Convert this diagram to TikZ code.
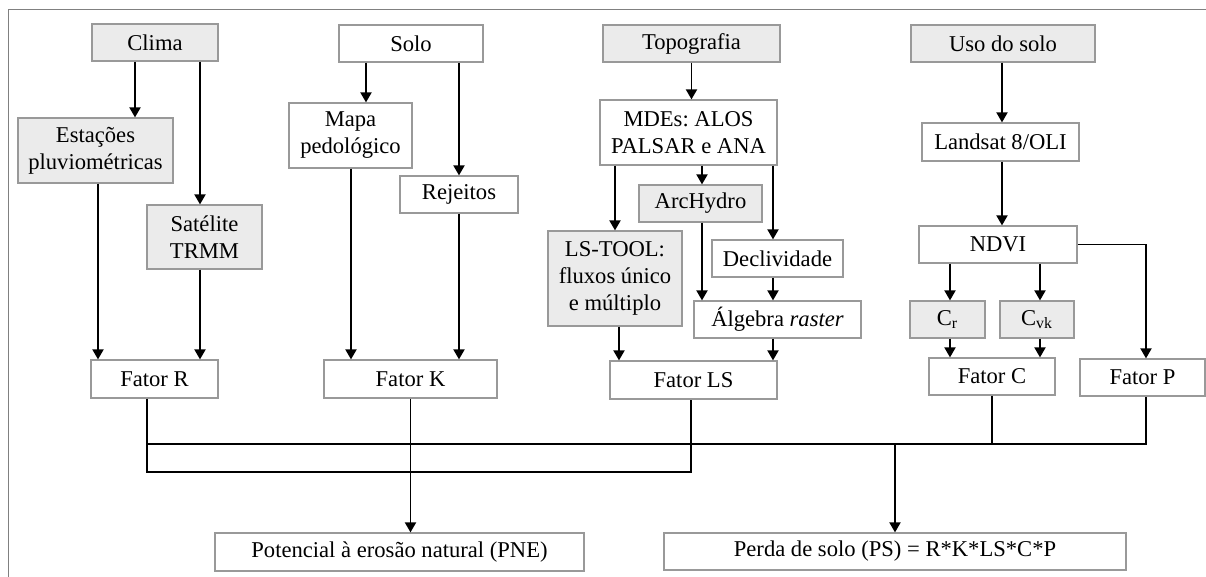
\documentclass[tikz,border=0pt]{standalone}
\usepackage{fontspec}
\setmainfont{Liberation Serif}
\frenchspacing
\usetikzlibrary{arrows.meta}

\begin{document}
\begin{tikzpicture}[x=0.5pt,y=-0.5pt,
    box/.style={draw=black!40,line width=0.6pt,fill=white,inner sep=0pt,align=center,
        font=\fontsize{11.3}{13.5}\selectfont,minimum height=18.5pt},
    gbox/.style={box,fill=black!8},
    wire/.style={line width=0.95pt},
    arr/.style={wire,-{Triangle[length=5pt,width=5.5pt]}}]
    \useasboundingbox (0,0) rectangle (1206,577);

    % columns of the connectors
    \coordinate (c1) at (135,0);
    \coordinate (c2) at (200,0);
    \coordinate (c3) at (98,0);
    \coordinate (s1) at (366,0);
    \coordinate (s2) at (459,0);
    \coordinate (s3) at (351,0);
    \coordinate (t1) at (615,0);
    \coordinate (t2) at (702,0);
    \coordinate (t3) at (773,0);
    \coordinate (t4) at (619,0);
    \coordinate (u1) at (1002,0);
    \coordinate (u2) at (950,0);
    \coordinate (u3) at (1040,0);
    \coordinate (u4) at (1146,0);
    \coordinate (r1) at (147,0);
    \coordinate (l1) at (691,0);
    \coordinate (busA) at (0,444);
    \coordinate (busB) at (0,472);

    \draw[black!50,line width=0.5pt] (8,577) -- (8,10) -- (1206,10); % frame

    % clima
    \node[gbox,minimum width=63pt] (clima) at (155,42.5) {Clima};
    \node[gbox,minimum width=77.5pt,minimum height=32.5pt] (estacoes) at (95.5,150.5) {Estações\\pluviométricas};
    \node[gbox,minimum width=57.5pt,minimum height=32pt] (satelite) at (204.5,237) {Satélite\\TRMM};
    % solo
    \node[box,minimum width=72pt] (solo) at (411,43.5) {Solo};
    \node[box,minimum width=61.5pt,minimum height=32.5pt] (mapa) at (350.5,135.5) {Mapa\\pedológico};
    \node[box,minimum width=59pt] (rejeitos) at (459,194.5) {Rejeitos};
    % topografia
    \node[gbox,minimum width=88.5pt] (topo) at (691.5,43.5) {Topografia};
    \node[box,minimum width=88.5pt,minimum height=32.5pt] (mde) at (688.5,132.5) {MDEs: ALOS\\PALSAR e ANA};
    \node[gbox,minimum width=61.5pt] (archydro) at (700.5,203.5) {ArcHydro};
    \node[gbox,minimum width=67pt,minimum height=47.5pt] (lstool) at (615,278.5) {LS-TOOL:\\fluxos único\\e múltiplo};
    \node[box,minimum width=65.5pt] (decliv) at (777.5,258.5) {Declividade};
    \node[box,minimum width=83.5pt] (algebra) at (777.5,319.5) {Álgebra \textit{raster}};
    % uso do solo
    \node[gbox,minimum width=92pt] (uso) at (1003,43.5) {Uso do solo};
    \node[box,minimum width=78.5pt,minimum height=19pt] (landsat) at (1000.5,142) {Landsat 8/OLI};
    \node[box,minimum width=79pt] (ndvi) at (998,244.5) {NDVI};
    \node[gbox,minimum width=37.5pt] (cr) at (947.5,319.5) {C\textsubscript{r}};
    \node[gbox,minimum width=37pt] (cvk) at (1037,319.5) {C\textsubscript{vk}};
    % fatores
    \node[box,minimum width=63.5pt,minimum height=19pt] (fatorR) at (154.5,379) {Fator R};
    \node[box,minimum width=86.5pt,minimum height=19pt] (fatorK) at (410.5,379) {Fator K};
    \node[box,minimum width=83.5pt,minimum height=19pt] (fatorLS) at (693.5,380) {Fator LS};
    \node[box,minimum width=63pt] (fatorC) at (992,376.5) {Fator C};
    \node[box,minimum width=62.5pt] (fatorP) at (1142.5,377.5) {Fator P};
    % resultados
    \node[box,minimum width=184.5pt,minimum height=19pt] (pne) at (399.5,552) {Potencial à erosão natural (PNE)};
    \node[box,minimum width=231pt] (ps) at (895,551.5) {Perda de solo (PS) = R*K*LS*C*P};

    \draw[arr] (clima.south -| c1) -- (estacoes.north -| c1);
    \draw[arr] (clima.south -| c2) -- (satelite.north -| c2);
    \draw[arr] (estacoes.south -| c3) -- (fatorR.north -| c3);
    \draw[arr] (satelite.south -| c2) -- (fatorR.north -| c2);

    \draw[arr] (solo.south -| s1) -- (mapa.north -| s1);
    \draw[arr] (solo.south -| s2) -- (rejeitos.north -| s2);
    \draw[arr] (mapa.south -| s3) -- (fatorK.north -| s3);
    \draw[arr] (rejeitos.south -| s2) -- (fatorK.north -| s2);

    \draw[arr] (topo.south) -- (topo.south |- mde.north);
    \draw[arr] (mde.south -| t1) -- (lstool.north -| t1);
    \draw[arr] (mde.south -| t2) -- (archydro.north -| t2);
    \draw[arr] (mde.south -| t3) -- (decliv.north -| t3);
    \draw[arr] (archydro.south -| t2) -- (algebra.north -| t2);
    \draw[arr] (decliv.south -| t3) -- (algebra.north -| t3);
    \draw[arr] (lstool.south -| t4) -- (fatorLS.north -| t4);
    \draw[arr] (algebra.south -| t3) -- (fatorLS.north -| t3);

    \draw[arr] (uso.south -| u1) -- (landsat.north -| u1);
    \draw[arr] (landsat.south -| u1) -- (ndvi.north -| u1);
    \draw[arr] (ndvi.south -| u2) -- (cr.north -| u2);
    \draw[arr] (ndvi.south -| u3) -- (cvk.north -| u3);
    \draw[arr] (cr.south -| u2) -- (fatorC.north -| u2);
    \draw[arr] (cvk.south -| u3) -- (fatorC.north -| u3);
    \draw[arr] (ndvi.east) -| (fatorP.north -| u4);

    % ligacao dos fatores
    \draw[wire] (fatorR.south -| r1) -- (busB -| r1) -- (busB -| l1) -- (fatorLS.south -| l1);
    \draw[wire] (busA -| r1) -- (busA -| u4) -- (fatorP.south -| u4);
    \draw[wire] (fatorC.south) -- (fatorC.south |- busA);
    \draw[arr] (fatorK.south) -- (fatorK.south |- pne.north);
    \draw[arr] (busA -| ps.north) -- (ps.north);
\end{tikzpicture}
\end{document}
